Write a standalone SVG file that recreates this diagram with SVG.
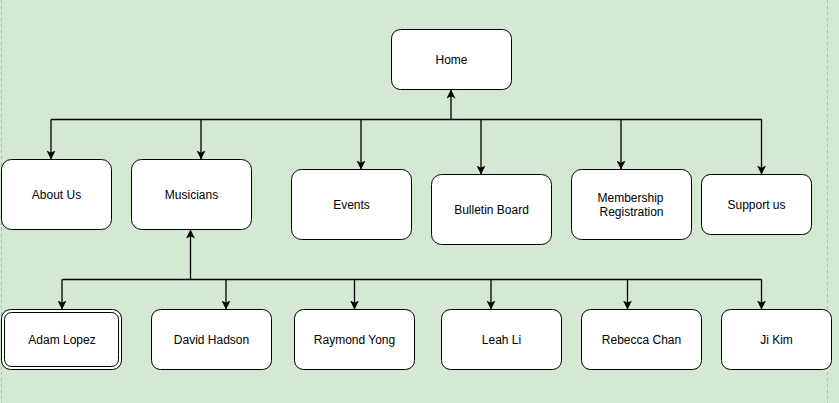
<svg xmlns="http://www.w3.org/2000/svg" width="839" height="403" viewBox="0 0 839 403">
<style>
.n rect{fill:#ffffff;stroke:#000000;stroke-width:1}
.n text{font-family:"Liberation Sans",Arial,sans-serif;font-size:12px;fill:#000000;text-anchor:middle}
.e{fill:none;stroke:#000000;stroke-width:1.3}
.guide{stroke:#b5b5b5;stroke-width:1;stroke-dasharray:3,3}
</style>
<defs>
<marker id="arr" markerUnits="userSpaceOnUse" viewBox="0 0 10 10" refX="10" refY="5" markerWidth="9" markerHeight="9" orient="auto">
<path d="M0,0 L10,5 L0,10 L2.5,5 z" fill="#000000"/>
</marker>
</defs>
<rect x="0" y="0" width="839" height="403" fill="#d5e8d4"/>
<line class="guide" x1="1.5" y1="0" x2="1.5" y2="403"/>
<line class="guide" x1="827.5" y1="0" x2="827.5" y2="403"/>
<g id="connectors">
<path class="e" d="M51,119.5 H762"/>
<path class="e" d="M451,119.5 V89.5" marker-end="url(#arr)"/>
<path class="e" d="M51,119.5 V159.5" marker-end="url(#arr)"/>
<path class="e" d="M201,119.5 V159.5" marker-end="url(#arr)"/>
<path class="e" d="M361,119.5 V169.5" marker-end="url(#arr)"/>
<path class="e" d="M481,119.5 V174.5" marker-end="url(#arr)"/>
<path class="e" d="M621,119.5 V169.5" marker-end="url(#arr)"/>
<path class="e" d="M761.5,119.5 V174.5" marker-end="url(#arr)"/>
<path class="e" d="M62,279.5 H761.5"/>
<path class="e" d="M190.5,279.5 V229.5" marker-end="url(#arr)"/>
<path class="e" d="M62,279.5 V309.5" marker-end="url(#arr)"/>
<path class="e" d="M226,279.5 V309.5" marker-end="url(#arr)"/>
<path class="e" d="M354.5,279.5 V309.5" marker-end="url(#arr)"/>
<path class="e" d="M491,279.5 V309.5" marker-end="url(#arr)"/>
<path class="e" d="M627.5,279.5 V309.5" marker-end="url(#arr)"/>
<path class="e" d="M761.5,279.5 V309.5" marker-end="url(#arr)"/>
</g>
<g id="home" class="n"><rect x="391.5" y="29.5" width="120" height="60" rx="9"/><text x="451.5" y="63.5">Home</text></g>
<g id="about-us" class="n"><rect x="1.5" y="159.5" width="110" height="70" rx="10"/><text x="56.5" y="198.5">About Us</text></g>
<g id="musicians" class="n"><rect x="131.5" y="159.5" width="120" height="70" rx="10"/><text x="191.5" y="198.5">Musicians</text></g>
<g id="events" class="n"><rect x="291.5" y="169.5" width="120" height="70" rx="10"/><text x="351.5" y="208.5">Events</text></g>
<g id="bulletin-board" class="n"><rect x="431.5" y="174.5" width="120" height="70" rx="10"/><text x="491.5" y="213.5">Bulletin Board</text></g>
<g id="membership" class="n"><rect x="571.5" y="169.5" width="120" height="70" rx="10"/><text x="630.5" y="201.5">Membership</text><text x="631.5" y="215.5">Registration</text></g>
<g id="support-us" class="n"><rect x="701.5" y="174.5" width="110" height="60" rx="9"/><text x="756.5" y="208.5">Support us</text></g>
<g id="adam-lopez" class="n"><rect x="1.5" y="309.5" width="120" height="60" rx="9"/><rect x="4.5" y="312.5" width="114" height="54" rx="7"/><text x="62" y="343.5">Adam Lopez</text></g>
<g id="david-hadson" class="n"><rect x="151.5" y="309.5" width="120" height="60" rx="9"/><text x="211.5" y="343.5">David Hadson</text></g>
<g id="raymond-yong" class="n"><rect x="294.5" y="309.5" width="120" height="60" rx="9"/><text x="354.5" y="343.5">Raymond Yong</text></g>
<g id="leah-li" class="n"><rect x="441.5" y="309.5" width="120" height="60" rx="9"/><text x="501.5" y="343.5">Leah Li</text></g>
<g id="rebecca-chan" class="n"><rect x="581.5" y="309.5" width="120" height="60" rx="9"/><text x="641.5" y="343.5">Rebecca Chan</text></g>
<g id="ji-kim" class="n"><rect x="721.5" y="309.5" width="110" height="60" rx="9"/><text x="776.5" y="343.5">Ji Kim</text></g>
</svg>
